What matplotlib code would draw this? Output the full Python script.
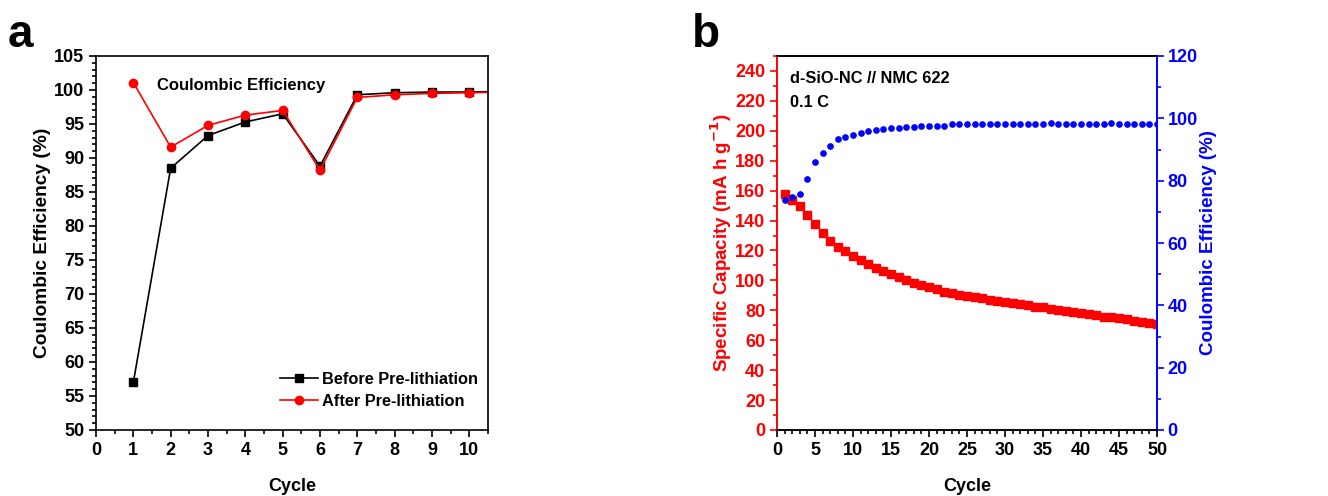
import matplotlib.pyplot as plt
from matplotlib.ticker import MultipleLocator

plt.rcParams['font.family'] = ['Liberation Sans', 'DejaVu Sans']
plt.rcParams['font.weight'] = 'bold'
plt.rcParams['axes.labelweight'] = 'bold'

# panel a
cycles_a = [1, 2, 3, 4, 5, 6, 7, 8, 9, 10, 11]
before = [57.0, 88.5, 93.3, 95.3, 96.5, 88.8, 99.3, 99.6, 99.7, 99.7, 99.8]
after = [101.1, 91.6, 94.8, 96.3, 97.0, 88.2, 98.9, 99.3, 99.5, 99.6, 99.7]

# panel b
cycles_b = list(range(1, 51))
capacity = [158, 154, 150, 144, 137.4, 131.4, 126.5, 122.5, 119.8, 116.5,
            113.6, 111, 108.5, 106.5, 104, 102, 100.2, 98.4, 96.9, 95.3,
            94.2, 92.2, 91.3, 90.4, 89.8, 89, 88, 86.9, 86.2, 85.7,
            84.6, 84, 83.3, 82.4, 82, 81, 80.2, 79.7, 79, 78,
            77.5, 76.6, 75.7, 75.3, 74.6, 73.9, 73, 72.2, 71.7, 70.8]
ce_b = [73.8, 74.7, 75.6, 80.4, 86, 89, 91.2, 93.3, 94.1, 94.7,
        95.2, 95.8, 96.3, 96.6, 96.8, 97, 97.2, 97.3, 97.4, 97.6,
        97.6, 97.5, 98.2, 98.3, 98.3, 98.3, 98.3, 98.3, 98.3, 98.3,
        98.3, 98.3, 98.3, 98.3, 98.3, 98.4, 98.3, 98.3, 98.3, 98.2,
        98.3, 98.3, 98.3, 98.4, 98.3, 98.3, 98.3, 98.3, 98.2, 98.2]

W, H = 1328, 496
fig = plt.figure(figsize=(W / 100, H / 100), dpi=100)

ax1 = fig.add_axes([96 / W, 1 - 430 / H, 392 / W, 374 / H])
ax1.plot(cycles_a, before, '-s', color='black', ms=5.5, lw=1.2, label='Before Pre-lithiation')
ax1.plot(cycles_a, after, '-o', color='red', ms=6, lw=1.2, label='After Pre-lithiation')
ax1.set_xlim(0, 10.5)
ax1.set_ylim(50, 105)
ax1.xaxis.set_major_locator(MultipleLocator(1))
ax1.xaxis.set_minor_locator(MultipleLocator(0.5))
ax1.yaxis.set_major_locator(MultipleLocator(5))
ax1.yaxis.set_minor_locator(MultipleLocator(1))
ax1.tick_params(which='both', direction='out', labelsize=13, width=1.2)
ax1.tick_params(which='major', length=5)
ax1.tick_params(which='minor', length=3)
ax1.set_xlabel('Cycle', fontsize=13, labelpad=14)
ax1.set_ylabel('Coulombic Efficiency (%)', fontsize=13.8, labelpad=2)
ax1.text(0.155, 0.92, 'Coulombic Efficiency', transform=ax1.transAxes,
         fontsize=12, fontweight='bold', va='center')
ax1.legend(loc='center left', bbox_to_anchor=(0.469, 0.106), frameon=False,
           borderaxespad=0, borderpad=0,
           fontsize=11.8, handlelength=2.3, handletextpad=0.3, labelspacing=0.45)
for s in ax1.spines.values():
    s.set_linewidth(1.2)
fig.text(8 / W, 1 - 47 / H, 'a', fontsize=33, fontweight='bold', va='baseline')

ax2 = fig.add_axes([777 / W, 1 - 430 / H, 380 / W, 374 / H])
ax2.plot(cycles_b, capacity, 's', color='red', ms=6.2, ls='none')
ax2.set_xlim(0, 50)
ax2.set_ylim(0, 250)
ax2.xaxis.set_major_locator(MultipleLocator(5))
ax2.xaxis.set_minor_locator(MultipleLocator(1))
ax2.yaxis.set_major_locator(MultipleLocator(20))
ax2.yaxis.set_minor_locator(MultipleLocator(10))
ax2.tick_params(which='both', direction='out', labelsize=13, width=1.2)
ax2.tick_params(which='major', length=5)
ax2.tick_params(which='minor', length=3)
ax2.tick_params(axis='y', which='both', colors='red')
ax2.set_xlabel('Cycle', fontsize=13, labelpad=14)
ax2.set_ylabel('Specific Capacity (mA h g$^{\\mathbf{-1}}$)', fontsize=13.5,
               color='red', labelpad=1)
ax2.text(0.035, 0.94, 'd-SiO-NC // NMC 622', transform=ax2.transAxes,
         fontsize=11.8, fontweight='bold', va='center')
ax2.text(0.035, 0.875, '0.1 C', transform=ax2.transAxes,
         fontsize=11.8, fontweight='bold', va='center')
fig.text(692 / W, 1 - 47 / H, 'b', fontsize=33, fontweight='bold', va='baseline')

ax3 = ax2.twinx()
ax3.plot(cycles_b, ce_b, 'o', color='blue', ms=3.8, ls='none')
ax3.set_ylim(0, 120)
ax3.yaxis.set_major_locator(MultipleLocator(20))
ax3.yaxis.set_minor_locator(MultipleLocator(10))
ax3.tick_params(axis='y', which='both', direction='out', colors='blue', labelsize=13,
                width=1.2, pad=2.5)
ax3.tick_params(which='major', length=5)
ax3.tick_params(which='minor', length=3)
ax3.set_ylabel('Coulombic Efficiency (%)', fontsize=13.5, color='blue', labelpad=2)
for s in ax3.spines.values():
    s.set_linewidth(1.2)
ax3.spines['left'].set_color('red')
ax3.spines['right'].set_color('blue')
for s in ax2.spines.values():
    s.set_linewidth(1.2)
ax2.spines['left'].set_color('red')
ax2.spines['right'].set_color('blue')

fig.savefig('out.png', dpi=100)
